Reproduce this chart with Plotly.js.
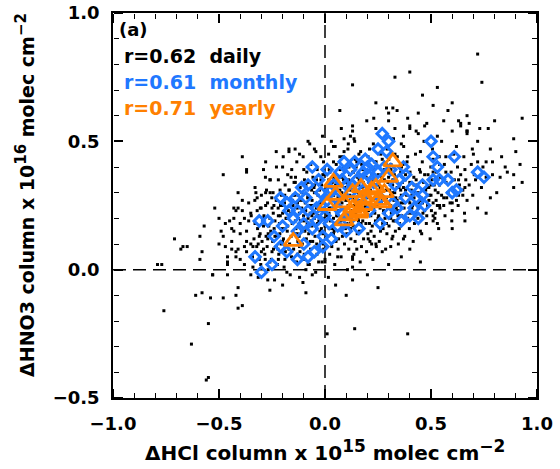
<!DOCTYPE html>
<html><head><meta charset="utf-8">
<script src="https://cdn.plot.ly/plotly-3.0.1.min.js"></script>
<style>html,body{margin:0;padding:0;background:#fff}</style>
</head><body><div id="plot" style="width:560px;height:469px"></div>
<script>
// ---- Daily values (ΔHCl x1e15, ΔHNO3 x1e16) ----
const dailyX = [
 -0.342,-0.335,-0.348,-0.331,-0.322,-0.318,-0.326,-0.315,-0.303,-0.297,-0.306,-0.294,-0.301,
 -0.284,-0.278,-0.288,-0.276,-0.281,-0.268,-0.273,-0.265,-0.271,-0.253,-0.247,-0.256,-0.244,-0.251,-0.258,-0.238,-0.243,-0.236,-0.241,
 -0.224,-0.218,-0.227,-0.215,-0.221,-0.212,-0.229,-0.207,-0.203,-0.211,-0.205,-0.193,-0.187,-0.196,-0.184,-0.191,-0.188,-0.197,-0.178,-0.173,-0.182,-0.176,
 -0.164,-0.158,-0.167,-0.155,-0.161,-0.153,-0.169,-0.157,-0.148,-0.143,-0.151,-0.146,-0.141,-0.134,-0.128,-0.137,-0.125,-0.131,-0.127,-0.139,-0.133,-0.118,-0.122,-0.115,-0.121,-0.117,
 -0.104,-0.098,-0.107,-0.095,-0.101,-0.093,-0.109,-0.097,-0.103,-0.088,-0.084,-0.091,-0.082,-0.086,-0.074,-0.068,-0.077,-0.065,-0.071,-0.063,-0.079,-0.067,-0.072,-0.058,-0.062,-0.055,-0.061,-0.057,
 -0.044,-0.038,-0.047,-0.035,-0.041,-0.033,-0.049,-0.037,-0.043,-0.028,-0.024,-0.031,-0.022,-0.026,-0.014,-0.008,-0.017,-0.005,-0.011,-0.003,-0.019,-0.007,-0.012,0.002,-0.002,0.005,0.001,-0.004,
 0.016,0.022,0.013,0.025,0.019,0.027,0.011,0.023,0.017,0.032,0.036,0.029,0.038,0.034,0.046,0.052,0.043,0.055,0.049,0.057,0.041,0.053,0.048,0.062,0.058,0.065,0.061,0.056,
 0.076,0.082,0.073,0.085,0.079,0.087,0.071,0.083,0.077,0.092,0.096,0.089,0.098,0.094,0.106,0.112,0.103,0.115,0.109,0.117,0.101,0.113,0.108,0.122,0.118,0.125,0.121,0.116,
 0.136,0.142,0.133,0.145,0.139,0.147,0.131,0.143,0.137,0.152,0.156,0.149,0.158,0.154,0.166,0.172,0.163,0.175,0.169,0.177,0.161,0.173,0.168,0.182,0.178,0.185,0.181,0.176,
 0.196,0.202,0.193,0.205,0.199,0.207,0.191,0.203,0.197,0.212,0.216,0.209,0.214,0.226,0.232,0.223,0.235,0.229,0.237,0.221,0.233,0.228,0.242,0.238,0.245,0.241,0.236,
 0.256,0.262,0.253,0.265,0.259,0.267,0.251,0.263,0.272,0.276,0.269,0.274,0.286,0.292,0.283,0.295,0.289,0.297,0.281,0.293,0.302,0.298,0.305,0.301,
 0.316,0.322,0.313,0.325,0.319,0.327,0.311,0.323,0.332,0.336,0.329,0.334,0.346,0.352,0.343,0.355,0.349,0.357,0.341,0.362,0.358,0.365,0.361,
 0.376,0.382,0.373,0.385,0.379,0.387,0.371,0.398,0.404,0.395,0.407,0.401,0.416,0.422,0.413,0.425,0.419,0.427,0.438,0.442,0.435,0.446,
 0.456,0.462,0.453,0.465,0.459,0.467,0.478,0.484,0.475,0.486,0.496,0.502,0.493,0.505,0.499,0.507,0.518,0.524,0.515,0.526,0.536,0.542,0.533,0.545,0.539,
 0.566,0.574,0.571,0.563,0.598,0.604,0.595,0.607,0.628,0.634,0.625,0.658,0.664,0.655,0.697,0.704,0.695,0.738,0.745,0.826,0.833,
 -0.48,-0.37,-0.42,-0.39,-0.57,-0.47,-0.49,-0.59,-0.48,-0.71,-0.68,-0.65,-0.50,-0.58,-0.59,-0.46,-0.42,-0.79,-0.77,-0.46,-0.53,-0.46,
 -0.61,-0.58,-0.54,-0.48,-0.42,-0.41,-0.76,-0.55,-0.63,-0.56,-0.55,-0.39,-0.41,-0.41,-0.44,
 -0.09,0.01,0.14,0.39,-0.03,0.00,-0.06,0.13,0.13,
 0.72,0.33,0.40,0.13,0.74,0.53,0.24,0.07,0.46,0.60,0.51,0.29,0.32,0.34,0.30,0.23,0.30,0.44,0.58,0.39,0.56,0.63,0.67,0.80,0.93,0.77,0.68,
 0.13,0.13,0.24,0.33,0.40,0.47,0.43,0.60,0.64,0.67,0.73,0.89,0.67,0.53,0.09,
 0.86,0.89,0.79,0.81,0.89,0.93,0.76,0.76,0.90,0.72,0.66,0.67,0.60,0.54,0.51,0.51,0.24,0.27,0.13,0.72,0.67,0.64,0.78,0.37,0.44,0.48,0.40,0.63,0.65,0.59,0.56,0.35,0.31,0.32,
 -0.17,-0.08,-0.39,-0.37,-0.28,-0.26,-0.32,-0.43,-0.50,-0.43,-0.40,-0.37,-0.38,-0.34,-0.42,-0.46,-0.53,-0.67,-0.05,-0.29,-0.17,-0.37,-0.40,-0.31,-0.22,-0.08,-0.41,-0.43,-0.38,
 0.02,0.07,0.04,0.12,0.15,0.03,0.14,
 -0.20,-0.12,0.05,0.13,0.20,0.30,0.36,0.45,0.40,-0.26,0.10,0.25,
 -0.33,-0.29,-0.26,-0.23,-0.20,-0.17,-0.14,-0.11,-0.08,-0.05,
 -0.02,0.01,0.04,0.07,0.10,0.13,0.16,0.19,0.22,0.25,
 0.28,0.31,0.34,0.37,0.40,0.43,0.46,0.49,0.52,0.55,
 -0.31,-0.28,-0.25,-0.22,-0.19,-0.16,-0.13,-0.10,-0.07,-0.04,
 -0.01,0.02,0.05,0.08,0.11,0.14,0.17,0.20,0.23,0.26,
 0.29,0.32,0.35,0.38,0.41,0.44,0.47,0.50,0.53,0.56,
 -0.35,-0.30,-0.27,-0.24,-0.21,-0.18,-0.15,-0.12,-0.09,-0.06,
 -0.03,0.00,0.03,0.06,0.09,0.12,0.15,0.18,0.21,0.24,
 0.27,0.30,0.33,0.36,0.39,0.42,0.45,0.48,0.51,0.54,
 -0.32,-0.26,-0.23,-0.20,-0.17,-0.14,-0.11,-0.08,-0.05,-0.02,
 0.01,0.04,0.07,0.10,0.13,0.16,0.19,0.22,0.25,0.28,
 0.31,0.34,0.37,0.40,0.43,0.46,0.49,0.52,0.58,0.61,
 -0.37,-0.34,-0.29,-0.25,-0.22,-0.19,-0.16,-0.13,-0.10,-0.07,
 -0.04,-0.01,0.02,0.05,0.08,0.11,0.14,0.17,0.20,0.23,
 0.26,0.29,0.32,0.35,0.38,0.41,0.44,0.47,0.50,0.56,
 0.62,0.65,0.68,0.71,0.64,0.69,0.76,0.79,0.85,0.92,
 -0.40,-0.38,-0.36,-0.44,-0.35,-0.27,-0.18,-0.09,0.00,0.06,
 0.15,0.22,0.31,0.37,0.45,0.53,0.60,0.66,0.72,0.78,
 0.04,0.09,0.16,0.21,0.27,0.33,0.39,0.45,0.51,0.57,
 -0.12,-0.20,-0.28,-0.23,-0.02,0.11,0.36,0.55,0.62,0.70,
 -0.315,-0.292,-0.268,-0.245,-0.222,-0.199,-0.176,-0.153,-0.131,-0.108,
 -0.085,-0.062,-0.039,-0.016,0.007,0.031,0.054,0.077,0.101,0.124,
 0.147,0.171,0.194,0.217,0.241,0.264,0.287,0.311,0.334,0.357,
 -0.305,-0.282,-0.259,-0.236,-0.213,-0.189,-0.166,-0.143,-0.121,-0.098,
 -0.075,-0.052,-0.029,-0.006,0.018,0.041,0.064,0.088,0.111,0.134,
 0.158,0.181,0.204,0.228,0.251,0.274,0.298,0.321,0.344,0.368,
 -0.39,-0.36,-0.33,-0.30,-0.45,-0.41,-0.35,-0.52,-0.47,-0.44,
 0.39,0.42,0.45,0.48,0.51,0.54,0.57,0.60,0.63,0.66
];
const dailyY = [
 0.05,0.12,0.21,0.27,0.09,0.16,0.30,-0.03,0.02,0.11,0.14,0.19,0.24,
 0.06,0.13,0.21,0.31,0.36,0.00,0.09,0.17,0.26,0.04,0.11,0.15,0.22,0.28,0.35,-0.04,0.08,0.19,0.25,
 0.02,0.06,0.13,0.18,0.24,0.31,0.40,0.10,0.16,0.21,0.29,0.01,0.07,0.12,0.20,0.26,0.33,0.44,0.15,0.23,0.28,0.37,
 -0.02,0.05,0.10,0.18,0.22,0.27,0.31,0.39,0.08,0.14,0.25,0.34,0.47,0.03,0.11,0.16,0.20,0.24,0.29,0.36,0.42,0.07,0.13,0.19,0.27,0.32,
 -0.05,0.04,0.10,0.15,0.21,0.26,0.30,0.35,0.44,0.12,0.18,0.23,0.28,0.38,0.02,0.08,0.14,0.19,0.25,0.31,0.34,0.41,0.49,0.11,0.17,0.22,0.27,0.36,
 -0.01,0.06,0.13,0.18,0.24,0.29,0.33,0.39,0.46,0.09,0.15,0.21,0.26,0.31,0.03,0.10,0.16,0.20,0.23,0.28,0.35,0.42,0.52,0.12,0.18,0.25,0.30,0.37,
 -0.03,0.06,0.13,0.19,0.22,0.27,0.32,0.38,0.45,0.09,0.16,0.24,0.29,0.34,0.02,0.11,0.15,0.21,0.26,0.31,0.36,0.41,0.48,0.08,0.18,0.23,0.28,0.33,
 0.05,0.13,0.19,0.24,0.30,0.35,0.39,0.44,0.55,0.10,0.16,0.21,0.27,0.32,0.00,0.08,0.14,0.20,0.25,0.29,0.34,0.40,0.47,0.12,0.18,0.23,0.31,0.37,
 0.06,0.11,0.17,0.22,0.27,0.33,0.38,0.43,0.51,0.14,0.20,0.25,0.30,0.36,0.03,0.09,0.15,0.21,0.26,0.32,0.35,0.41,0.46,0.12,0.19,0.24,0.29,0.39,
 0.07,0.14,0.18,0.23,0.28,0.34,0.38,0.44,0.58,0.11,0.21,0.26,0.31,0.04,0.13,0.17,0.22,0.27,0.33,0.37,0.42,0.49,0.09,0.19,0.25,0.30,0.35,
 0.11,0.15,0.21,0.26,0.29,0.36,0.40,0.45,0.18,0.23,0.32,0.38,0.08,0.14,0.20,0.24,0.28,0.34,0.39,0.47,0.17,0.26,0.31,0.43,
 0.12,0.19,0.22,0.27,0.33,0.37,0.41,0.51,0.15,0.24,0.30,0.35,0.10,0.18,0.23,0.28,0.32,0.38,0.44,0.21,0.26,0.34,0.40,
 0.13,0.19,0.24,0.29,0.35,0.42,0.48,0.16,0.22,0.27,0.31,0.38,0.11,0.18,0.25,0.30,0.36,0.45,0.20,0.26,0.33,0.39,
 0.14,0.22,0.28,0.34,0.42,0.50,0.18,0.25,0.31,0.37,0.12,0.23,0.29,0.35,0.40,0.47,0.20,0.27,0.33,0.38,0.16,0.24,0.30,0.36,0.44,
 0.21,0.28,0.34,0.41,0.19,0.31,0.38,0.45,0.25,0.33,0.40,0.22,0.35,0.44,0.29,0.37,0.47,0.32,0.40,0.36,0.44,
 0.37,0.38,0.23,0.23,0.17,0.18,0.15,0.13,0.13,0.12,0.08,0.09,0.10,0.07,0.04,0.05,0.05,0.02,0.02,0.02,-0.02,-0.02,
 -0.10,-0.09,-0.11,-0.11,-0.10,-0.07,-0.16,-0.21,-0.29,-0.43,-0.42,-0.14,-0.15,0.08,0.08,
 -0.09,-0.25,-0.23,-0.25,0.03,0.03,-0.02,0.01,0.04,
 0.84,0.75,0.77,0.72,0.73,0.71,0.65,0.62,0.68,0.65,0.64,0.63,0.63,0.62,0.61,0.59,0.58,0.61,0.62,0.59,0.58,0.58,0.60,0.58,0.59,0.55,0.57,
 0.56,0.54,0.55,0.55,0.55,0.56,0.54,0.54,0.56,0.54,0.55,0.51,0.53,0.52,0.51,
 0.38,0.37,0.37,0.30,0.32,0.34,0.22,0.42,0.46,0.42,0.39,0.27,0.23,0.25,0.19,0.21,0.10,0.07,0.05,0.50,0.54,0.57,0.47,0.52,0.53,0.57,0.56,0.35,0.29,0.26,0.28,0.16,0.20,0.13,
 0.46,0.50,0.44,0.39,0.30,0.35,0.28,0.24,0.20,0.15,0.14,0.11,0.09,0.09,0.07,0.03,-0.02,0.09,0.47,0.39,0.47,0.07,0.04,0.04,0.04,0.02,0.24,0.20,0.20,
 0.39,0.44,0.48,0.52,0.42,0.50,0.50,
 -0.06,-0.03,-0.06,-0.04,-0.02,0.02,0.05,0.03,0.08,-0.08,-0.10,-0.07,
 0.18,0.08,0.20,0.27,0.11,0.31,0.19,0.24,0.29,0.20,
 0.26,0.31,0.20,0.27,0.22,0.28,0.33,0.25,0.30,0.33,
 0.22,0.29,0.27,0.32,0.26,0.35,0.31,0.27,0.31,0.29,
 0.13,0.25,0.07,0.21,0.16,0.13,0.26,0.19,0.11,0.16,
 0.14,0.24,0.33,0.17,0.27,0.25,0.18,0.31,0.24,0.32,
 0.31,0.30,0.21,0.37,0.29,0.24,0.37,0.33,0.25,0.35,
 0.22,0.29,0.12,0.16,0.25,0.20,0.29,0.09,0.33,0.25,
 0.23,0.17,0.27,0.21,0.36,0.16,0.23,0.34,0.18,0.28,
 0.27,0.36,0.19,0.29,0.22,0.33,0.27,0.21,0.38,0.33,
 0.23,0.03,0.09,0.22,0.08,0.34,0.15,0.20,0.30,0.11,
 0.21,0.14,0.31,0.28,0.19,0.27,0.21,0.35,0.20,0.35,
 0.25,0.32,0.26,0.34,0.22,0.26,0.32,0.22,0.30,0.35,
 0.15,0.01,0.17,0.24,0.35,0.29,0.36,0.06,0.39,0.22,
 0.35,0.37,0.16,0.24,0.26,0.33,0.30,0.24,0.26,0.39,
 0.24,0.18,0.35,0.25,0.31,0.24,0.30,0.23,0.29,0.25,
 0.27,0.31,0.33,0.35,0.37,0.41,0.36,0.42,0.40,0.41,
 0.18,0.02,0.26,0.11,-0.02,-0.04,-0.01,0.00,0.04,0.05,
 0.08,0.10,0.09,0.12,0.15,0.18,0.16,0.19,0.24,0.28,
 0.42,0.46,0.45,0.47,0.43,0.45,0.44,0.46,0.43,0.44,
 0.45,0.40,0.42,0.46,0.44,0.49,0.49,0.50,0.48,0.45,
 0.10,0.20,0.14,0.30,0.08,0.25,0.17,0.22,0.14,0.27,
 0.16,0.21,0.10,0.33,0.19,0.14,0.26,0.36,0.18,0.21,
 0.40,0.29,0.36,0.15,0.42,0.30,0.26,0.39,0.28,0.31,
 0.24,0.04,0.30,0.13,0.14,0.04,0.25,0.29,0.22,0.06,
 0.28,0.32,0.19,0.08,0.35,0.29,0.12,0.40,0.35,0.38,
 0.19,0.39,0.12,0.34,0.37,0.16,0.40,0.28,0.21,0.41,
 0.27,0.19,0.32,0.07,0.19,0.30,0.10,0.24,0.09,0.16,
 0.20,0.28,0.38,0.32,0.26,0.41,0.38,0.26,0.29,0.32
];

// ---- Monthly values ----
const monthlyX = [
 0.27,0.30,0.25,0.29,0.50,0.51,0.61,0.53,0.72,0.75,0.20,0.18,0.37,0.38,0.35,0.51,0.54,0.58,0.46,0.41,0.60,0.62,0.43,0.46,0.47,0.42,0.26,0.32,0.34,
 -0.06,0.01,-0.08,-0.14,-0.21,-0.18,-0.31,-0.27,-0.20,-0.17,-0.13,-0.08,-0.13,-0.21,-0.18,-0.33,-0.25,-0.30,-0.13,-0.08,-0.05,-0.01,0.02,-0.06,-0.04,0.04,0.07,0.12,0.20,0.25,
 0.05,0.08,0.12,0.15,-0.02,0.00,0.06,0.10,0.03,-0.10,-0.03,0.14,0.22,0.28,0.33,0.38,0.40,0.44,0.36,0.30,-0.10,-0.24,0.10,0.17,
 -0.02,0.03,0.08,0.13,0.18,0.23,-0.09,-0.04,0.01,0.06,0.11,0.16,0.21,-0.15,-0.11,0.26,0.31,0.19,0.09,-0.01
];
const monthlyY = [
 0.53,0.50,0.47,0.46,0.50,0.44,0.44,0.40,0.38,0.36,0.40,0.38,0.40,0.37,0.35,0.35,0.35,0.35,0.33,0.32,0.30,0.31,0.28,0.29,0.25,0.24,0.18,0.26,0.24,
 0.40,0.39,0.33,0.28,0.28,0.26,0.19,0.19,0.17,0.23,0.23,0.23,0.15,0.09,0.07,0.05,0.02,-0.01,0.04,0.05,0.07,0.13,0.18,0.16,0.24,0.33,0.38,0.39,0.37,0.38,
 0.28,0.22,0.30,0.35,0.30,0.21,0.17,0.15,0.12,0.18,0.35,0.42,0.41,0.40,0.33,0.28,0.21,0.20,0.19,0.22,0.10,0.13,0.33,0.28,
 0.25,0.31,0.35,0.33,0.31,0.34,0.28,0.19,0.27,0.24,0.19,0.16,0.23,0.20,0.32,0.28,0.39,0.43,0.42,0.09
];

// ---- Yearly values ----
const yearlyX = [-0.15,0.04,0.01,0.09,0.13,0.17,0.22,0.09,0.16,0.18,0.20,0.25,0.13,0.32,0.30,0.24,0.27,0.18,0.16,0.05,0.11,0.28];
const yearlyY = [0.11,0.34,0.25,0.26,0.30,0.32,0.31,0.19,0.22,0.25,0.27,0.27,0.24,0.42,0.36,0.32,0.26,0.28,0.23,0.29,0.21,0.30];

const rLabels = ['r=0.62\u00a0\u00a0daily', 'r=0.61\u00a0\u00a0monthly', 'r=0.71\u00a0\u00a0yearly'];
const panelLabel = '(a)';
const SUP = (s, px) => '<sup><span style="font-size:' + px + 'px">' + s + '</span></sup>';
const xTitle = '\u0394HCl column x 10' + SUP('15', 17) + '\u00a0molec cm' + SUP('\u22122', 17);
const yTitle = '\u0394HNO3 column x 10' + SUP('16', 15) + '\u00a0molec cm' + SUP('\u22122', 15);

const BLUE = '#1f78ff', ORANGE = '#ff8000';
const FONT = 'DejaVu Sans';
const XR = [-1, 1], YR = [-0.5, 1];

// daily on the labelled axes; monthly and yearly on free overlay axes that carry the inward ticks
const traces = [
 {x: dailyX, y: dailyY, type: 'scatter', mode: 'markers', xaxis: 'x', yaxis: 'y',
  marker: {symbol: 'square', size: 3, color: '#000', line: {width: 0}}},
 {x: monthlyX, y: monthlyY, type: 'scatter', mode: 'markers', xaxis: 'x2', yaxis: 'y2',
  marker: {symbol: 'diamond-open', size: 8, color: BLUE, line: {width: 3, color: BLUE}}},
 {x: yearlyX, y: yearlyY, type: 'scatter', mode: 'markers', xaxis: 'x3', yaxis: 'y3',
  marker: {symbol: 'triangle-up-open', size: 16, color: ORANGE, line: {width: 2.8, color: ORANGE}}}
];

// labelled axes: transparent outside ticks only set the label gap
const labelAxis = (range, t0, gap) => ({
  range: range, showgrid: false, zeroline: false, showline: true, linecolor: '#000', linewidth: 1.5, mirror: true,
  ticks: 'outside', ticklen: gap, tickcolor: 'rgba(0,0,0,0)', dtick: 0.5, tick0: t0, tickformat: '.1f',
  tickfont: {family: FONT, size: 18, color: '#000', weight: 'bold'}
});
// free axes on each frame edge; their "outside" side faces into the plot
const edgeAxis = (over, range, t0, side, pos) => ({
  overlaying: over, anchor: 'free', position: pos, side: side, range: range,
  showgrid: false, zeroline: false, showline: false, showticklabels: false,
  ticks: 'outside', ticklen: 9, tickwidth: 1.5, tickcolor: '#000', dtick: 0.5, tick0: t0,
  minor: {dtick: 0.1, ticks: 'outside', ticklen: 5, tickwidth: 1.3, tickcolor: '#000', showgrid: false}
});

const layout = {
  width: 560, height: 469,
  margin: {l: 113, r: 23, t: 13, b: 71},
  paper_bgcolor: '#fff', plot_bgcolor: '#fff',
  showlegend: false,
  xaxis: labelAxis(XR, -1, 9),
  yaxis: labelAxis(YR, -0.5, 8),
  xaxis2: edgeAxis('x', XR, -1, 'top', 0),
  yaxis2: edgeAxis('y', YR, -0.5, 'right', 0),
  xaxis3: edgeAxis('x', XR, -1, 'bottom', 1),
  yaxis3: edgeAxis('y', YR, -0.5, 'left', 1),
  shapes: [
    {type: 'line', xref: 'x', yref: 'paper', x0: 0, x1: 0, y0: 0, y1: 1, layer: 'below',
     line: {color: '#000', width: 1.5, dash: '13px,7px'}},
    {type: 'line', xref: 'paper', yref: 'y', x0: 0, x1: 1, y0: 0, y1: 0, layer: 'below',
     line: {color: '#000', width: 1.5, dash: '13px,7px'}}
  ],
  annotations: [
    {text: panelLabel, xref: 'paper', yref: 'paper', x: 0.010, y: 0.958, xanchor: 'left', yanchor: 'middle',
     showarrow: false, font: {family: FONT, size: 18, color: '#000', weight: 'bold'}},
    {text: rLabels[0], xref: 'paper', yref: 'paper', x: 0.022, y: 0.888, xanchor: 'left', yanchor: 'middle',
     showarrow: false, font: {family: FONT, size: 19, color: '#000', weight: 'bold'}},
    {text: rLabels[1], xref: 'paper', yref: 'paper', x: 0.022, y: 0.821, xanchor: 'left', yanchor: 'middle',
     showarrow: false, font: {family: FONT, size: 19, color: BLUE, weight: 'bold'}},
    {text: rLabels[2], xref: 'paper', yref: 'paper', x: 0.022, y: 0.753, xanchor: 'left', yanchor: 'middle',
     showarrow: false, font: {family: FONT, size: 19, color: ORANGE, weight: 'bold'}},
    {text: xTitle, xref: 'paper', yref: 'paper', x: 0.5, y: -0.18, xanchor: 'center', yanchor: 'bottom',
     showarrow: false, font: {family: FONT, size: 20, color: '#000', weight: 'bold'}},
    {text: yTitle, xref: 'paper', yref: 'paper', x: -0.208, y: 0.527, xanchor: 'center', yanchor: 'middle',
     textangle: -90, showarrow: false, font: {family: FONT, size: 19, color: '#000', weight: 'bold'}}
  ]
};

Plotly.newPlot('plot', traces, layout, {displayModeBar: false});
</script>
</body></html>
